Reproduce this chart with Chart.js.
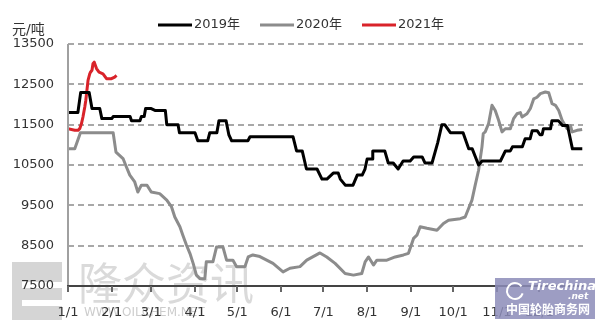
<!DOCTYPE html>
<html>
<head>
<meta charset="utf-8">
<script src="https://cdn.jsdelivr.net/npm/chart.js@4"></script>
<style>
  html, body { margin: 0; padding: 0; background: #fff; }
  #wrap { width: 600px; height: 325px; position: relative; }
</style>
</head>
<body>
<div id="wrap"><canvas id="priceChart"></canvas></div>
<script>
// x = day of year, y = 元/吨
const monthDays = [0, 31, 59, 90, 120, 151, 181, 212, 243, 273, 304, 334];
const monthLabels = ['1/1', '2/1', '3/1', '4/1', '5/1', '6/1', '7/1', '8/1', '9/1', '10/1', '11/1', '12/1'];
const seriesNames = ['2019年', '2020年', '2021年'];
const seriesColors = ['#000000', '#8c8c8c', '#d9232a'];

const days2019 = [0, 7, 9, 15, 17, 22.5, 24, 31, 32, 44, 45, 51, 52, 54, 55, 59, 62, 69, 70, 78, 79, 90, 92, 99, 100.5, 105.5, 107, 112, 114, 116, 127.5, 129, 159.5, 162, 166, 169, 176.5, 180, 183.5, 188, 191.5, 193, 196.5, 202, 205, 208.5, 210.5, 212, 215.5, 216, 224.5, 227, 230.5, 234, 237.5, 242.5, 245, 251, 253, 258, 262, 265, 267, 271, 280, 284, 286.5, 291, 293.5, 306.5, 310, 313.5, 315, 322, 324, 327.5, 329, 332.5, 334.5, 336, 337, 342, 343, 347.5, 350.5, 354, 357.5, 364.5];
const price2019 = [11800, 11800, 12300, 12300, 11900, 11900, 11650, 11650, 11700, 11700, 11600, 11600, 11700, 11700, 11900, 11900, 11850, 11850, 11500, 11500, 11300, 11300, 11100, 11100, 11300, 11300, 11600, 11600, 11250, 11100, 11100, 11200, 11200, 10850, 10850, 10400, 10400, 10150, 10150, 10300, 10300, 10150, 10000, 10000, 10250, 10250, 10400, 10650, 10650, 10850, 10850, 10550, 10550, 10400, 10600, 10600, 10700, 10700, 10550, 10550, 11050, 11500, 11500, 11300, 11300, 10900, 10900, 10500, 10600, 10600, 10850, 10850, 10950, 10950, 11150, 11150, 11350, 11350, 11250, 11250, 11400, 11400, 11600, 11600, 11480, 11480, 10900, 10900];

const days2020 = [0, 4.8, 8.8, 32, 34, 39, 41.4, 43.8, 47.3, 49.5, 52, 56, 59, 65, 70, 73.4, 75.7, 79.3, 81.4, 84, 86.4, 88.7, 91, 93.5, 97, 98, 102.7, 105.3, 109.8, 112.4, 116.9, 119.5, 125.4, 127.7, 131, 136, 145.3, 152.4, 157.3, 164.4, 169.2, 178.6, 183.4, 189.3, 196.4, 202.3, 208.2, 210.6, 213, 216.5, 218.9, 226, 231.9, 237.8, 241.3, 244.9, 247.3, 249.6, 254.4, 261.5, 266.1, 269.7, 278, 281.5, 283.9, 286.3, 288.6, 291, 293.4, 294.3, 295.7, 298.1, 300.5, 302.8, 305.2, 307.6, 309.9, 313.5, 315.8, 318.2, 320.6, 321.8, 325.3, 327.7, 330.1, 332.4, 334.8, 338.3, 340.7, 343.1, 345.5, 347.8, 350.2, 353.7, 356.1, 357.3, 360.8, 364.4];
const price2020 = [10900, 10900, 11300, 11300, 10820, 10660, 10450, 10250, 10080, 9830, 10000, 10000, 9830, 9790, 9630, 9460, 9210, 8970, 8760, 8510, 8310, 8060, 7770, 7680, 7680, 8100, 8100, 8470, 8470, 8140, 8140, 7980, 7980, 8220, 8270, 8230, 8060, 7850, 7940, 7980, 8140, 8320, 8220, 8060, 7810, 7770, 7810, 8100, 8220, 8020, 8140, 8140, 8220, 8270, 8310, 8680, 8760, 8970, 8930, 8880, 9050, 9130, 9170, 9210, 9420, 9630, 10000, 10370, 10950, 11280, 11320, 11530, 11980, 11850, 11610, 11320, 11400, 11400, 11650, 11770, 11800, 11690, 11770, 11900, 12140, 12180, 12270, 12310, 12290, 12020, 11980, 11850, 11610, 11400, 11480, 11320, 11360, 11380];

const days2021 = [0, 4.8, 7.1, 8.3, 9.5, 10.6, 11.9, 12.6, 14.2, 15.4, 15.9, 17, 17.7, 18.6, 20.2, 22, 24.8, 27.3, 30.8, 33.1, 34.4];
const price2021 = [11400, 11360, 11360, 11400, 11520, 11690, 11940, 12100, 12600, 12760, 12800, 12850, 13010, 13050, 12890, 12800, 12760, 12640, 12640, 12680, 12720];

const toPoints = (days, prices) => days.map((d, i) => ({ x: d, y: prices[i] }));

const FONT = '"DejaVu Sans", sans-serif';
const CJK = '"DejaVu Sans", "Noto Sans CJK SC", sans-serif';

// 图例、单位、水印、坐标轴线
const decorPlugin = {
    id: 'decor',
    beforeDraw(chart) {
        const ctx = chart.ctx;
        ctx.save();
        // 隆众资讯 watermark
        ctx.fillStyle = 'rgba(150,150,150,0.4)';
        ctx.fillRect(12, 262, 50, 58);
        ctx.fillStyle = '#fff';
        ctx.fillRect(22, 282, 40, 6);
        ctx.fillRect(22, 300, 40, 6);
        ctx.fillStyle = 'rgba(150,150,150,0.35)';
        ctx.font = '44px "Noto Sans CJK SC"';
        ctx.textBaseline = 'alphabetic';
        ctx.fillText('隆众资讯', 78, 300);
        ctx.font = '12px ' + FONT;
        ctx.fillStyle = 'rgba(170,170,170,0.6)';
        ctx.fillText('WWW.OILCHEM.NET', 84, 316);
        ctx.restore();
    },
    afterDraw(chart) {
        const { ctx, chartArea, scales } = chart;
        ctx.save();
        // axis lines and x tick marks, as filled rects
        const left = Math.round(chartArea.left);
        const right = Math.round(chartArea.right);
        const top = Math.round(scales.y.getPixelForValue(scales.y.max));
        const bottom = Math.round(scales.y.getPixelForValue(scales.y.min));
        ctx.fillStyle = '#a0a0a0';
        ctx.fillRect(left - 1, top, 2, bottom - top);
        ctx.fillStyle = '#444';
        ctx.fillRect(left - 1, bottom - 1, right - left + 1, 2);
        ctx.fillStyle = '#666';
        monthDays.forEach(d => {
            const x = Math.round(scales.x.getPixelForValue(d));
            ctx.fillRect(x - 1, bottom, 2, 6);
        });
        // unit label
        ctx.fillStyle = '#333';
        ctx.font = '14px ' + CJK;
        ctx.textBaseline = 'middle';
        ctx.fillText('元/吨', 12, 30);
        // legend
        const legendX = [158, 260, 362];
        ctx.font = '13px ' + CJK;
        seriesNames.forEach((name, i) => {
            ctx.strokeStyle = seriesColors[i];
            ctx.lineWidth = 3;
            ctx.beginPath();
            ctx.moveTo(legendX[i], 25);
            ctx.lineTo(legendX[i] + 34, 25);
            ctx.stroke();
            ctx.fillStyle = '#333';
            ctx.fillText(name, legendX[i] + 36, 25);
        });
        // tirechina badge
        ctx.fillStyle = 'rgba(140,140,185,0.85)';
        ctx.fillRect(495, 278, 100, 41);
        ctx.fillStyle = '#fff';
        ctx.font = 'italic bold 13px ' + FONT;
        ctx.fillText('Tirechina', 528, 287);
        ctx.font = 'italic bold 9px ' + FONT;
        ctx.fillText('.net', 568, 297);
        ctx.strokeStyle = '#fff';
        ctx.lineWidth = 2;
        ctx.beginPath();
        ctx.arc(515, 291, 8, 0.3, Math.PI * 1.8);
        ctx.stroke();
        ctx.font = 'bold 12px "Noto Sans CJK SC"';
        ctx.fillText('中国轮胎商务网', 506, 309);
        ctx.restore();
    }
};

new Chart(document.getElementById('priceChart'), {
    type: 'line',
    data: {
        datasets: [
            { label: seriesNames[0], data: toPoints(days2019, price2019), borderColor: seriesColors[0] },
            { label: seriesNames[1], data: toPoints(days2020, price2020), borderColor: seriesColors[1] },
            { label: seriesNames[2], data: toPoints(days2021, price2021), borderColor: seriesColors[2] }
        ]
    },
    options: {
        responsive: true,
        maintainAspectRatio: false,
        animation: false,
        events: [],
        layout: { padding: { top: 44, right: 17, left: 0, bottom: 0 } },
        elements: {
            point: { radius: 0 },
            line: { borderWidth: 3, tension: 0, borderJoinStyle: 'round' }
        },
        plugins: {
            legend: { display: false },
            tooltip: { enabled: false }
        },
        scales: {
            x: {
                type: 'linear',
                min: 0,
                max: 365,
                afterBuildTicks: scale => { scale.ticks = monthDays.map(v => ({ value: v })); },
                afterFit: scale => { scale.height = 39; },
                ticks: {
                    autoSkip: false,
                    maxRotation: 0,
                    padding: 11,
                    color: '#333',
                    font: { family: FONT, size: 13 },
                    callback: (v) => monthLabels[monthDays.indexOf(v)]
                },
                grid: { display: false },
                border: { display: false }
            },
            y: {
                min: 7500,
                max: 13500,
                afterFit: scale => { scale.width = 68; },
                ticks: {
                    stepSize: 1000,
                    padding: 14,
                    color: '#333',
                    font: { family: FONT, size: 13 },
                    callback: (v) => String(v)
                },
                grid: { drawTicks: false, color: '#a8a8a8', lineWidth: 2 },
                border: { display: false, dash: [6, 4] }
            }
        }
    },
    plugins: [decorPlugin]
});
</script>
</body>
</html>
